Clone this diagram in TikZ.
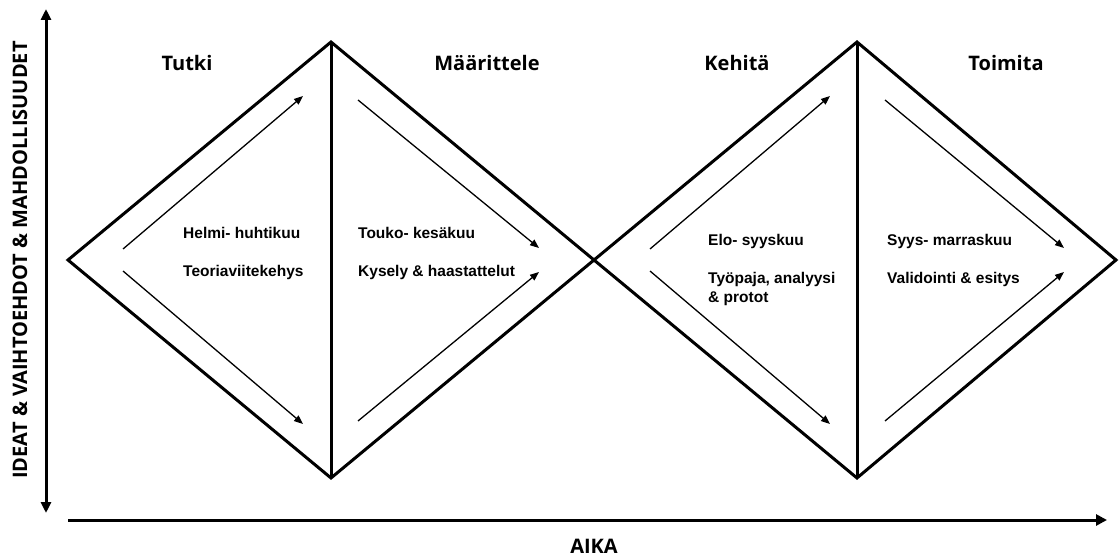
\documentclass[tikz,border=0pt]{standalone}
\usepackage{fontspec}
\setmainfont{Liberation Sans}
\newfontfamily\osans{Open Sans}
\usetikzlibrary{arrows.meta}

\tikzset{
  frame/.style={line width=3pt, line join=miter, miter limit=10},
  flow/.style={line width=1.3pt, -{Triangle[length=9pt,width=7pt]}},
  axis/.style={line width=3pt, {Triangle[length=11pt,width=10pt]}-{Triangle[length=11pt,width=10pt]}},
  haxis/.style={line width=3pt, -{Triangle[length=11pt,width=11pt]}},
  phase/.style={font=\osans\bfseries\fontsize{20}{24}\selectfont, anchor=base, inner sep=0pt},
  axlabel/.style={font=\osans\bfseries\fontsize{20}{24}\selectfont, inner sep=0pt},
  note/.style={font=\bfseries\fontsize{15.5}{19}\selectfont, anchor=base west, inner sep=0pt},
}

\begin{document}
\begin{tikzpicture}[x=1pt, y=-1pt]
\useasboundingbox (0,0) rectangle (1120,556);

% corners of the double diamond
\coordinate (L)  at (68,260);
\coordinate (T1) at (331,42);
\coordinate (B1) at (331,478);
\coordinate (T2) at (857,42);
\coordinate (B2) at (857,478);
\coordinate (R)  at (1116,260);

\draw[frame] (L) -- (T1) -- (B2) -- (R) -- (T2) -- (B1) -- cycle;
\draw[frame] (T1) -- (B1);
\draw[frame] (T2) -- (B2);

% diverging / converging flow arrows
\coordinate (a1s) at (123,249);  \coordinate (a1e) at (303,96);
\coordinate (a2s) at (123,271);  \coordinate (a2e) at (303,424);
\coordinate (b1s) at (358,100);  \coordinate (b1e) at (539,248);
\coordinate (b2s) at (358,421);  \coordinate (b2e) at (539,272);
\coordinate (c1s) at (650,249);  \coordinate (c1e) at (830,96);
\coordinate (c2s) at (650,271);  \coordinate (c2e) at (830,424);
\coordinate (d1s) at (885,100);  \coordinate (d1e) at (1064,248);
\coordinate (d2s) at (885,421);  \coordinate (d2e) at (1064,272);
\foreach \p in {a1,a2,b1,b2,c1,c2,d1,d2}
  \draw[flow] (\p s) -- (\p e);

% phase titles
\node[phase] (tutki) at (187,71)  {Tutki};
\node[phase] (maar)  at (487,71)  {Määrittele};
\node[phase] (kehi)  at (737,71)  {Kehitä};
\node[phase] (toim)  at (1006,71) {Toimita};

% phase notes
\node[note] (n1a) at (183,239) {Helmi- huhtikuu};
\node[note] (n1b) at (183,277) {Teoriaviitekehys};
\node[note] (n2a) at (358,239) {Touko- kesäkuu};
\node[note] (n2b) at (358,277) {Kysely \& haastattelut};
\node[note] (n3a) at (708,246) {Elo- syyskuu};
\node[note] (n3b) at (708,284) {Työpaja, analyysi};
\node[note] (n3c) at (708,303) {\& protot};
\node[note] (n4a) at (887,246) {Syys- marraskuu};
\node[note] (n4b) at (887,284) {Validointi \& esitys};

% axes
\coordinate (vtop) at (46,9);
\coordinate (vbot) at (46,513);
\draw[axis] (vbot) -- (vtop);
\coordinate (hstart) at (68,520);
\coordinate (hend) at (1107,520);
\draw[haxis] (hstart) -- (hend);

\node[axlabel, rotate=90] (ylab) at (20,260) {IDEAT \& VAIHTOEHDOT \& MAHDOLLISUUDET};
\node[axlabel] (xlab) at (594,546) {AIKA};
\end{tikzpicture}
\end{document}
